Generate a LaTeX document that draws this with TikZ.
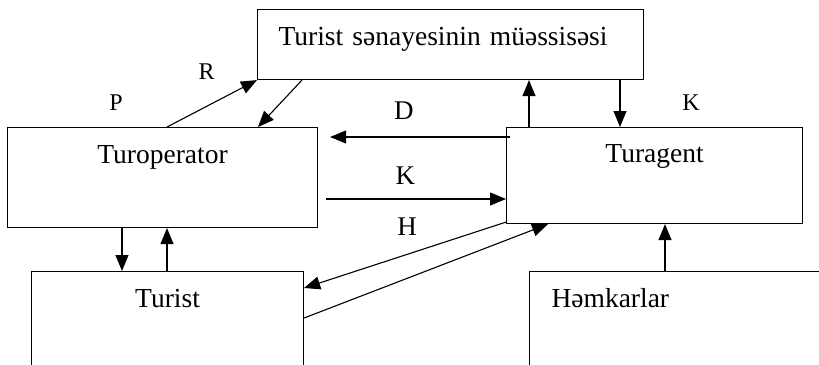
\documentclass[tikz,border=0pt]{standalone}
\usepackage{fontspec}
\setmainfont{Liberation Serif}
\usepackage{tikz}
\usetikzlibrary{arrows.meta}
\tikzstyle{arrow} = [line width=1.1pt,-{Triangle[length=16pt,width=13pt]}]
\tikzstyle{box} = [draw, line width=1.1pt, inner sep=0pt, anchor=north west, align=center, font=\fontsize{27.5}{33}\selectfont]
\tikzstyle{tag} = [inner sep=0pt, anchor=base, font=\fontsize{27}{32}\selectfont]
\tikzstyle{smalltag} = [inner sep=0pt, anchor=base, font=\fontsize{24}{29}\selectfont]

\begin{document}
\begin{tikzpicture}[x=1pt,y=-1pt]
    \clip (0,0) rectangle (819,364);
    \node[box, text width=344pt, inner xsep=21pt, align=left, text height=36pt, text depth=34pt] (sanaye) at (257,9) {Turist sənayesinin müəssisəsi};
    \node[box, text width=310pt, text height=36pt, text depth=64pt] (turop) at (7,127) {Turoperator};
    \node[box, text width=296pt, text height=35pt, text depth=61pt] (turag) at (506,127) {Turagent};
    \node[box, text width=272pt, text height=36pt, text depth=130pt] (turist) at (31,271) {Turist};
    \node[box, text width=278pt, inner xsep=22pt, align=left, text height=36pt, text depth=130pt] (hemkar) at (529,271) {Həmkarlar};
    \draw[arrow] ([xshift=160pt]turop.north west) -- node[smalltag, at start, xshift=-51pt, yshift=17pt]{P} node[smalltag, pos=0.44, yshift=27pt]{R} (sanaye.south west);
    \draw[arrow] ([xshift=45pt]sanaye.south west) -- ([xshift=251pt]turop.north west);
    \draw[arrow] ([xshift=4pt,yshift=-10pt]turag.north west) -- node[tag, pos=0.59, yshift=18pt]{D} ([xshift=12pt,yshift=-10pt]turop.north east);
    \draw[arrow] ([xshift=8pt,yshift=-72pt]turop.north east) -- node[tag, pos=0.44, yshift=15pt]{K} node[tag, pos=0.45, yshift=-36pt]{H} ([yshift=-72pt]turag.north west);
    \draw[arrow] ([xshift=363pt]sanaye.south west) -- node[smalltag, pos=0.65, xshift=71pt]{K} ([xshift=114pt]turag.north west);
    \draw[arrow] ([xshift=23pt]turag.north west) -- ([xshift=272pt]sanaye.south west);
    \draw[arrow] ([xshift=115pt]turop.south west) -- ([xshift=91pt]turist.north west);
    \draw[arrow] ([xshift=136pt]turist.north west) -- ([xshift=160pt]turop.south west);
    \draw[arrow] ([yshift=2pt]turag.south west) -- ([yshift=-17pt]turist.north east);
    \draw[arrow] ([yshift=-47pt]turist.north east) -- ([xshift=42pt]turag.south west);
    \draw[arrow] ([xshift=136pt]hemkar.north west) -- ([xshift=159pt]turag.south west);
\end{tikzpicture}
\end{document}
